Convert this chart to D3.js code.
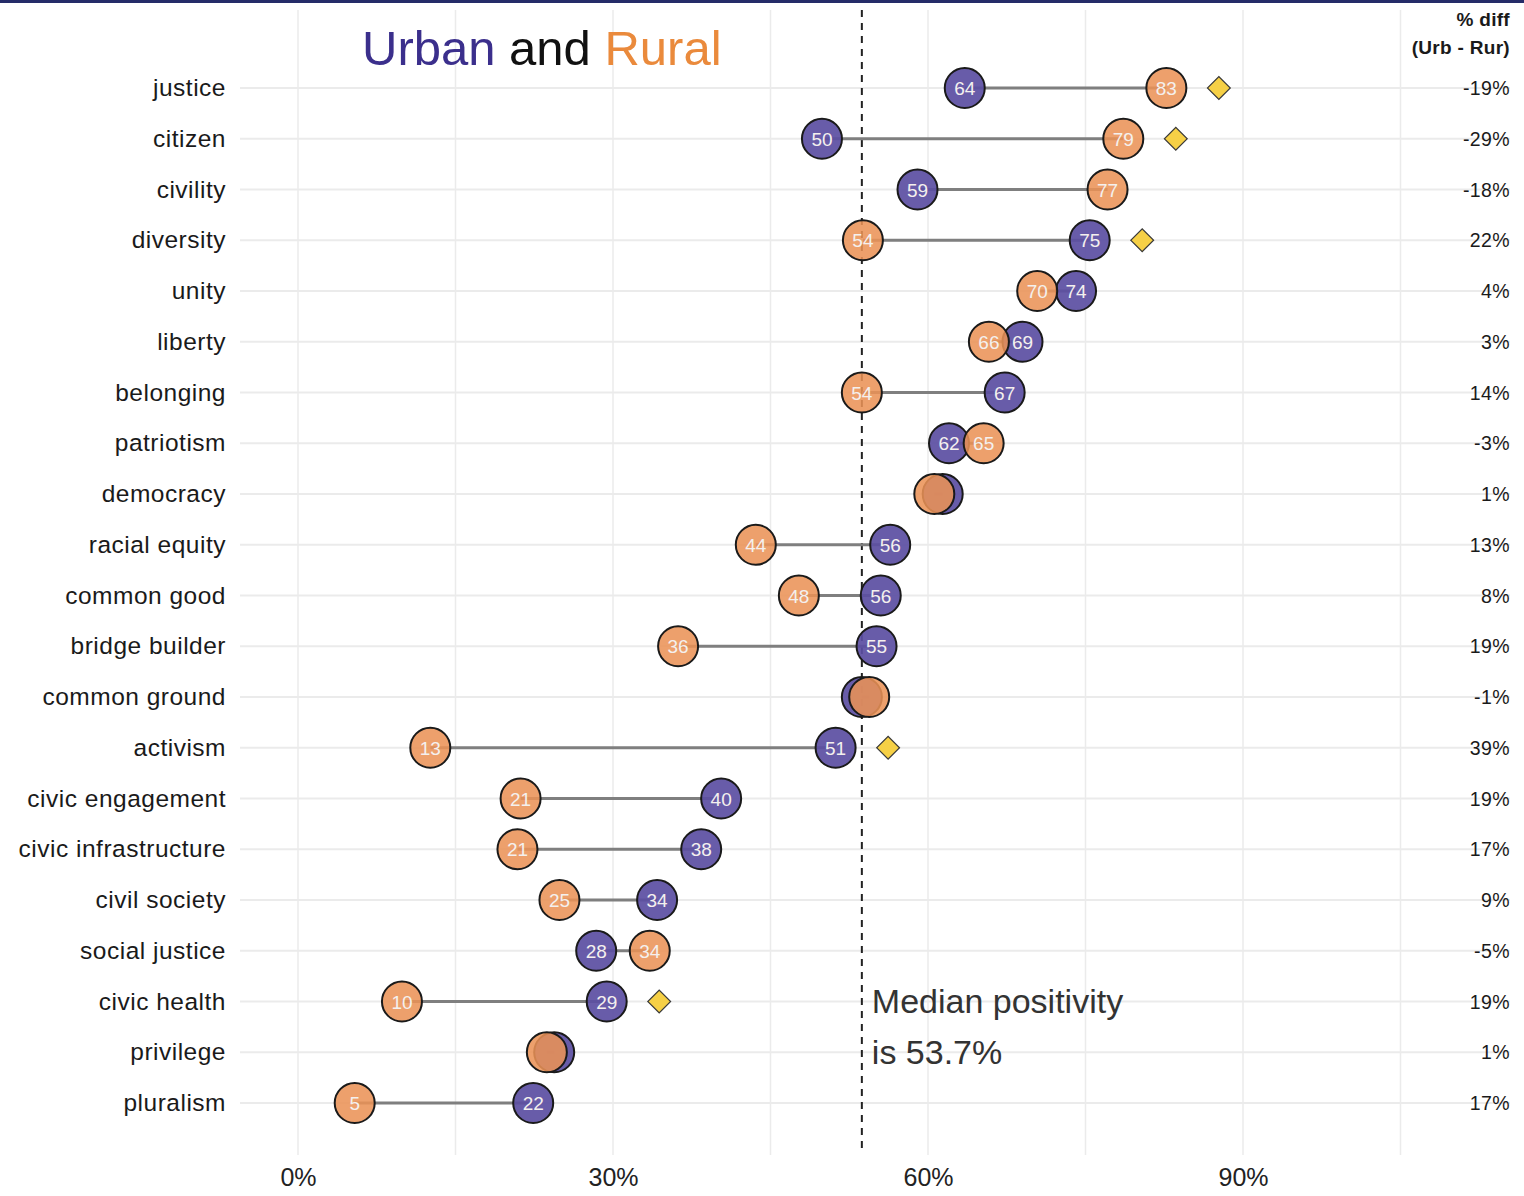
<!DOCTYPE html>
<html>
<head>
<meta charset="utf-8">
<script src="https://cdn.jsdelivr.net/npm/d3@7"></script>
<style>
  body { margin: 0; background: #fff; }
  text { font-family: "Liberation Sans", Arial, sans-serif; }
</style>
</head>
<body>
<script>
// words, top to bottom
const words = ['justice', 'citizen', 'civility', 'diversity', 'unity', 'liberty', 'belonging',
  'patriotism', 'democracy', 'racial equity', 'common good', 'bridge builder', 'common ground',
  'activism', 'civic engagement', 'civic infrastructure', 'civil society', 'social justice',
  'civic health', 'privilege', 'pluralism']
// % positive
const urban = [63.5, 49.9, 59.0, 75.4, 74.1, 69.0, 67.3, 62.0, 61.4, 56.4, 55.5, 55.1, 53.7,
  51.2, 40.3, 38.4, 34.2, 28.4, 29.4, 24.4, 22.4]
const rural = [82.7, 78.6, 77.1, 53.8, 70.4, 65.8, 53.7, 65.3, 60.6, 43.6, 47.7, 36.2, 54.4,
  12.6, 21.2, 20.9, 24.9, 33.5, 9.9, 23.7, 5.4]
const diffLabels = ['-19%', '-29%', '-18%', '22%', '4%', '3%', '14%', '-3%', '1%', '13%', '8%',
  '19%', '-1%', '39%', '19%', '17%', '9%', '-5%', '19%', '1%', '17%']
// rows flagged with a diamond
const flagged = ['justice', 'citizen', 'diversity', 'activism', 'civic health']
const median = 53.7
const xTicks = [0, 30, 60, 90]
const xMinor = [15, 45, 75, 105]

const data = words.map((w, i) => ({
  word: w, urban: urban[i], rural: rural[i], diff: diffLabels[i], flag: flagged.includes(w)
}))

const width = 1524, height = 1196
const svg = d3.select('body').append('svg')
  .attr('width', width)
  .attr('height', height)

svg.append('rect').attr('x', 0).attr('y', 0).attr('width', width).attr('height', 3)
  .attr('fill', '#252c68')

const x = d3.scaleLinear().domain([0, 90]).range([298, 1243])
const y = d3.scalePoint().domain(words).range([88, 1103])

// grid
svg.append('g').selectAll('line')
  .data(xTicks.concat(xMinor))
  .enter().append('line')
  .attr('x1', d => x(d)).attr('x2', d => x(d))
  .attr('y1', 10).attr('y2', 1155)
  .attr('stroke', '#ebebeb').attr('stroke-width', 1.5)

svg.append('g').selectAll('line')
  .data(words)
  .enter().append('line')
  .attr('x1', 240).attr('x2', 1510)
  .attr('y1', d => y(d)).attr('y2', d => y(d))
  .attr('stroke', '#ebebeb').attr('stroke-width', 2)

// x axis labels
const xAxis = d3.axisBottom(x).tickValues(xTicks).tickFormat(d => d + '%').tickSize(0).tickPadding(0)
const ax = svg.append('g').attr('transform', 'translate(0,1186)').call(xAxis)
ax.select('.domain').remove()
ax.selectAll('text').attr('dy', 0)
  .style('font-family', '"Liberation Sans Narrow", "Liberation Sans", Arial, sans-serif')
  .style('font-size', '25px').attr('fill', '#222')

// median line
svg.append('line')
  .attr('x1', x(median)).attr('x2', x(median))
  .attr('y1', 10).attr('y2', 1150)
  .attr('stroke', '#222').attr('stroke-width', 2)
  .attr('stroke-dasharray', '7,6')

svg.append('text').attr('x', x(median) + 10).attr('y', 1013)
  .text('Median positivity').attr('font-size', '34px').attr('fill', '#333')
svg.append('text').attr('x', x(median) + 10).attr('y', 1064)
  .text('is 53.7%').attr('font-size', '34px').attr('fill', '#333')

// row labels
svg.append('g').selectAll('text')
  .data(data)
  .enter().append('text')
  .attr('x', 226).attr('y', d => y(d.word) + 8)
  .attr('text-anchor', 'end')
  .attr('font-size', '24.5px').attr('letter-spacing', '0.5px').attr('fill', '#1a1a1a')
  .text(d => d.word)

// diff labels
svg.append('g').selectAll('text')
  .data(data)
  .enter().append('text')
  .attr('x', 1510).attr('y', d => y(d.word) + 7)
  .attr('text-anchor', 'end')
  .attr('font-size', '19.5px').attr('letter-spacing', '0.4px').attr('fill', '#1a1a1a')
  .text(d => d.diff)

svg.append('text').attr('x', 1510).attr('y', 26).attr('text-anchor', 'end')
  .attr('font-size', '19px').attr('font-weight', 'bold').attr('letter-spacing', '0.3px')
  .attr('fill', '#1a1a1a').text('% diff')
svg.append('text').attr('x', 1510).attr('y', 54).attr('text-anchor', 'end')
  .attr('font-size', '19px').attr('font-weight', 'bold').attr('letter-spacing', '0.3px')
  .attr('fill', '#1a1a1a').text('(Urb - Rur)')

// title
const title = svg.append('text').attr('x', 362).attr('y', 65).attr('font-size', '49px')
title.append('tspan').attr('fill', '#3b2f8c').text('Urban')
title.append('tspan').attr('fill', '#111').text(' and ')
title.append('tspan').attr('fill', '#ea8a3c').text('Rural')

// segments
svg.append('g').selectAll('line')
  .data(data)
  .enter().append('line')
  .attr('x1', d => x(d.urban)).attr('x2', d => x(d.rural))
  .attr('y1', d => y(d.word)).attr('y2', d => y(d.word))
  .attr('stroke', '#7f7f7f').attr('stroke-width', 3)

// diamonds
svg.append('g').selectAll('path')
  .data(data.filter(d => d.flag))
  .enter().append('path')
  .attr('d', d3.symbol().type(d3.symbolSquare).size(260))
  .attr('transform', d => `translate(${x(Math.max(d.urban, d.rural) + 5)},${y(d.word)}) rotate(45)`)
  .attr('fill', '#f6d046').attr('stroke', '#3a3a3a').attr('stroke-width', 1.2)

const r = 20
svg.append('g').selectAll('circle')
  .data(data)
  .enter().append('circle')
  .attr('cx', d => x(d.urban)).attr('cy', d => y(d.word)).attr('r', r)
  .attr('fill', '#5b4ea2').attr('fill-opacity', 0.92)
  .attr('stroke', '#1a1a1a').attr('stroke-width', 2)

svg.append('g').selectAll('circle')
  .data(data)
  .enter().append('circle')
  .attr('cx', d => x(d.rural)).attr('cy', d => y(d.word)).attr('r', r)
  .attr('fill', '#ea9256').attr('fill-opacity', 0.87)
  .attr('stroke', '#1a1a1a').attr('stroke-width', 2)

// value labels, hidden where dots sit on top of each other
const labelled = data.filter(d => Math.abs(d.urban - d.rural) >= 2)
const vals = labelled.map(d => ({ v: d.urban, w: d.word }))
  .concat(labelled.map(d => ({ v: d.rural, w: d.word })))
svg.append('g').selectAll('text')
  .data(vals)
  .enter().append('text')
  .attr('x', d => x(d.v)).attr('y', d => y(d.w) + 7)
  .attr('text-anchor', 'middle')
  .attr('font-size', '19px').attr('fill', '#f4f0ee')
  .text(d => Math.round(d.v))
</script>
</body>
</html>
